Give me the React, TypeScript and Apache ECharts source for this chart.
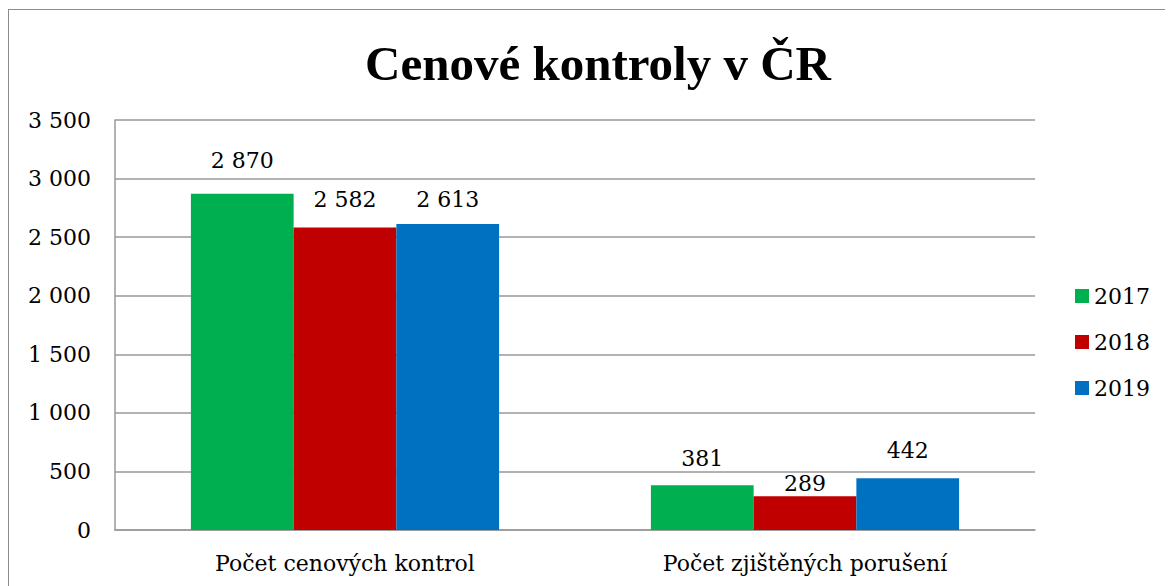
import React, { useEffect, useRef } from "react";
import * as echarts from "echarts";

const categories = ["Počet cenových kontrol", "Počet zjištěných porušení"];
const seriesNames = ["2017", "2018", "2019"];
const values2017 = [2870, 381];
const values2018 = [2582, 289];
const values2019 = [2613, 442];
const colors = ["#00B050", "#C00000", "#0070C0"];
// label distances above bars (px), per series / category, mimicking the original placement
const labelDist = [
  [22, 16],
  [17, 2],
  [13, 17],
];

const fmt = (v: number) => String(v).replace(/\B(?=(\d{3})+(?!\d))/g, " ");

const FONT = "'DejaVu Serif', serif";
const TITLE_FONT = "'Liberation Serif', serif";

export default function App() {
  const ref = useRef<HTMLDivElement>(null);
  useEffect(() => {
    if (!ref.current) return;
    const chart = echarts.init(ref.current, undefined, { renderer: "svg" });
    const data = [values2017, values2018, values2019];
    chart.setOption({
      animation: false,
      textStyle: { fontFamily: FONT },
      title: {
        text: "Cenové kontroly v ČR",
        left: 351,
        top: 24,
        textStyle: { fontFamily: TITLE_FONT, fontWeight: "bold", fontSize: 49, color: "#000" },
      },
      legend: {
        orient: "vertical",
        right: 14,
        top: 270,
        itemWidth: 14,
        itemHeight: 14,
        itemGap: 24,
        icon: "rect",
        textStyle: { fontFamily: FONT, fontSize: 22, color: "#000" },
        data: seriesNames,
      },
      grid: { left: 106, top: 110, width: 920, height: 410 },
      xAxis: {
        type: "category",
        data: categories,
        axisTick: { show: false },
        axisLine: { lineStyle: { color: "#999", width: 1.5 } },
        axisLabel: { fontFamily: FONT, fontSize: 22, color: "#000", margin: 22 },
      },
      yAxis: {
        type: "value",
        min: 0,
        max: 3500,
        interval: 500,
        axisLine: { show: true, lineStyle: { color: "#999", width: 1.5 } },
        splitLine: { lineStyle: { color: "#999", width: 1.5 } },
        axisLabel: {
          fontFamily: FONT,
          fontSize: 22,
          color: "#000",
          margin: 24,
          formatter: (v: number) => fmt(v),
        },
      },
      series: seriesNames.map((name, i) => ({
        name,
        type: "bar",
        data: data[i].map((v, j) => ({ value: v, label: { distance: labelDist[i][j] } })),
        barGap: "0%",
        barCategoryGap: "33%",
        itemStyle: { color: colors[i] },
        label: {
          show: true,
          position: "top",
          distance: 10,
          fontFamily: FONT,
          fontSize: 22,
          color: "#000",
          formatter: (p: any) => fmt(p.value),
        },
      })),
    });
    return () => chart.dispose();
  }, []);
  return (
    <div
      style={{
        width: 1163,
        height: 600,
        border: "1.5px solid #8c8c8c",
        boxSizing: "border-box",
        position: "relative",
        top: 1,
      }}
    >
      <div ref={ref} style={{ width: 1160, height: 597 }} />
    </div>
  );
}
